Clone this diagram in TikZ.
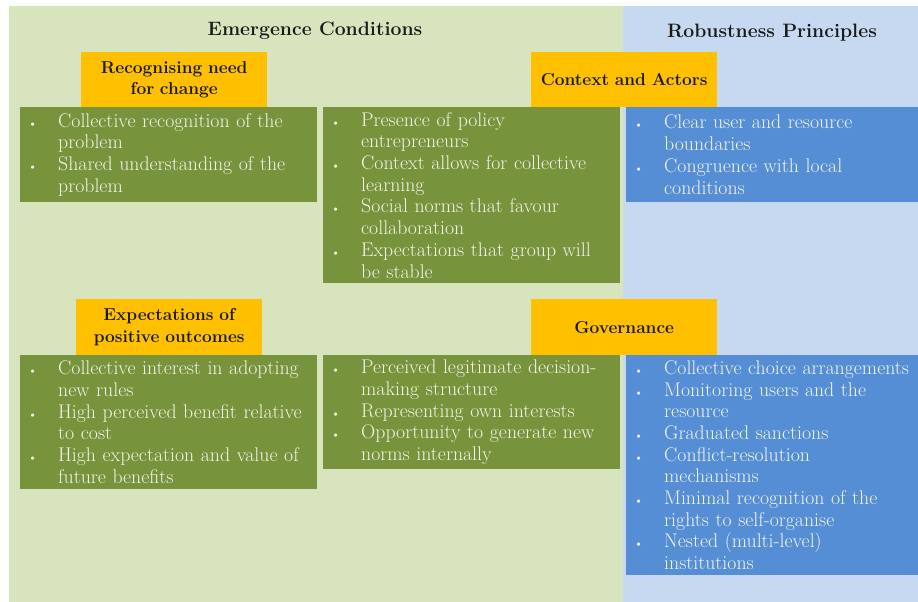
\documentclass[tikz,border=0pt]{standalone}
\usepackage{xcolor}
\definecolor{bggreen}{HTML}{D7E4BD}
\definecolor{bgblue}{HTML}{C6D9F1}
\definecolor{olivebox}{HTML}{77933C}
\definecolor{bluebox}{HTML}{558ED5}
\definecolor{amber}{HTML}{FFC000}
\definecolor{paletext}{HTML}{F4F4EA}
\usepackage{tikz}
\usetikzlibrary{positioning}
\newcommand{\boxfont}{\fontsize{19.8}{21.7}\selectfont}
\newcommand{\headfont}{\fontsize{17.3}{21.5}\selectfont\bfseries}
\newcommand{\itm}{\makebox[38pt][l]{\hspace{8pt}{\fontsize{12}{12}\selectfont\textbullet}}}
\newcommand{\cnt}{\hspace*{38pt}}

\begin{document}
\begin{tikzpicture}[x=1pt, y=-1pt,
  listbox/.style={anchor=north west, inner xsep=0pt, inner ysep=4pt, align=left, text=paletext, font=\boxfont},
  headbox/.style={fill=amber, anchor=north west, inner sep=0pt, align=center, font=\headfont, text=black!90},
  title/.style={font=\fontsize{19.4}{22}\selectfont\bfseries, text=black!90}]
  \useasboundingbox (0,0) rectangle (918,602);

  % Backgrounds
  \fill[bggreen] (9,6) rectangle (623,602);
  \fill[bgblue] (623,6) rectangle (918,602);

  % Titles
  \node[title] (emerg) at (315,31) {Emergence Conditions};
  \node[title] (robust) at (772,33) {Robustness Principles};

  % Top row
  \node[headbox, minimum width=186pt, minimum height=55pt, text width=186pt] (needhd) at (81,52) {Recognising need\\for change};
  \node[headbox, minimum width=186pt, minimum height=55pt, text width=186pt] (ctxhd) at (531,52) {Context and Actors};

  \node[listbox, fill=olivebox, minimum height=95pt, text width=297pt] (need) at (20,107)
    {\itm Collective recognition of the\\ \cnt problem\\ \itm Shared understanding of the\\ \cnt problem};
  \node[listbox, fill=olivebox, minimum height=176pt, text width=297pt] (ctx) at (323,107)
    {\itm Presence of policy\\ \cnt entrepreneurs\\ \itm Context allows for collective\\ \cnt learning\\ \itm Social norms that favour\\ \cnt collaboration\\ \itm Expectations that group will\\ \cnt be stable};
  \node[listbox, fill=bluebox, minimum height=95pt, text width=292pt] (bound) at (626,107)
    {\itm Clear user and resource\\ \cnt boundaries\\ \itm Congruence with local\\ \cnt conditions};

  % Bottom row
  \node[headbox, minimum width=186pt, minimum height=56pt, text width=186pt] (expecthd) at (76,299) {Expectations of\\positive outcomes};
  \node[headbox, minimum width=186pt, minimum height=56pt, text width=186pt] (govhd) at (531,299) {Governance};

  \node[listbox, fill=olivebox, minimum height=134pt, text width=297pt] (expect) at (20,355)
    {\itm Collective interest in adopting\\ \cnt new rules\\ \itm High perceived benefit relative\\ \cnt to cost\\ \itm High expectation and value of\\ \cnt future benefits};
  \node[listbox, fill=olivebox, minimum height=114pt, text width=297pt] (legit) at (323,355)
    {\itm Perceived legitimate decision-\\ \cnt making structure\\ \itm Representing own interests\\ \itm Opportunity to generate new\\ \cnt norms internally};
  \node[listbox, fill=bluebox, minimum height=220pt, text width=292pt] (gov) at (626,355)
    {\itm Collective choice arrangements\\ \itm Monitoring users and the\\ \cnt resource\\ \itm Graduated sanctions\\ \itm Conflict-resolution\\ \cnt mechanisms\\ \itm Minimal recognition of the\\ \cnt rights to self-organise\\ \itm Nested (multi-level)\\ \cnt institutions};
\end{tikzpicture}
\end{document}
